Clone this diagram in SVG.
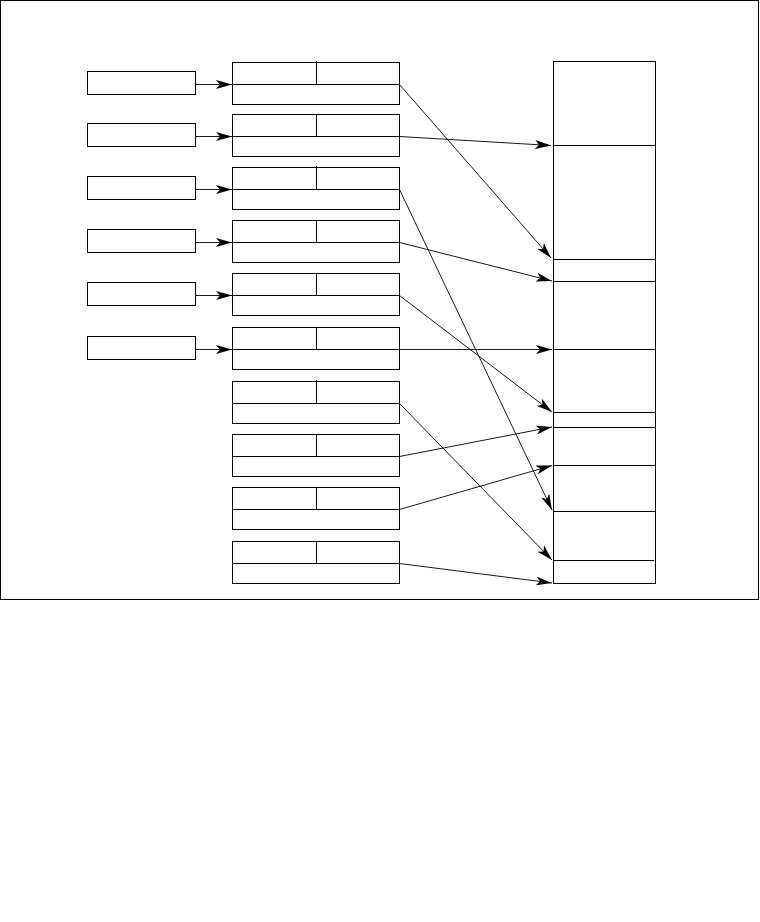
<svg xmlns="http://www.w3.org/2000/svg" width="760" height="922" viewBox="0 0 760 922">
<style>
.b{fill:#fff;stroke:#000;stroke-width:1}
.l{stroke:#000;stroke-width:1;fill:none}
.c{stroke:#000;stroke-width:0.9;fill:none;marker-end:url(#ah)}
</style>
<defs>
<marker id="ah" viewBox="0 0 16 9" refX="16" refY="4.5" markerWidth="16" markerHeight="9" markerUnits="userSpaceOnUse" orient="auto">
<path d="M0,0 L16,4.5 L0,9 L4,4.5 Z" fill="#000"/>
</marker>
</defs>
<rect width="760" height="922" fill="#fff"/>
<rect id="frame" x="0.5" y="0.5" width="758" height="599" fill="none" stroke="#000" stroke-width="1"/>
<g id="left1"><rect class="b" x="87.5" y="71.5" width="108" height="23"/></g>
<g id="left2"><rect class="b" x="87.5" y="123.5" width="108" height="23"/></g>
<g id="left3"><rect class="b" x="87.5" y="176.5" width="108" height="23"/></g>
<g id="left4"><rect class="b" x="87.5" y="229.5" width="108" height="23"/></g>
<g id="left5"><rect class="b" x="87.5" y="282.5" width="108" height="23"/></g>
<g id="left6"><rect class="b" x="87.5" y="336.5" width="108" height="23"/></g>
<g id="mid1"><rect class="b" x="232.5" y="62.5" width="167" height="42"/><path class="l" d="M232.5,84.5H399.5M316.5,61V84.5"/></g>
<g id="mid2"><rect class="b" x="232.5" y="114.5" width="167" height="42"/><path class="l" d="M232.5,136.5H399.5M316.5,114.5V136.5"/></g>
<g id="mid3"><rect class="b" x="232.5" y="167.5" width="167" height="42"/><path class="l" d="M232.5,189.5H399.5M316.5,166V189.5"/></g>
<g id="mid4"><rect class="b" x="232.5" y="220.5" width="167" height="42"/><path class="l" d="M232.5,242.5H399.5M316.5,220.5V242.5"/></g>
<g id="mid5"><rect class="b" x="232.5" y="273.5" width="167" height="42"/><path class="l" d="M232.5,295.5H399.5M316.5,273.5V295.5"/></g>
<g id="mid6"><rect class="b" x="232.5" y="327.5" width="167" height="42"/><path class="l" d="M232.5,349.5H399.5M316.5,327.5V349.5"/></g>
<g id="mid7"><rect class="b" x="232.5" y="381.5" width="167" height="42"/><path class="l" d="M232.5,403.5H399.5M316.5,380V403.5"/></g>
<g id="mid8"><rect class="b" x="232.5" y="434.5" width="167" height="42"/><path class="l" d="M232.5,456.5H399.5M316.5,434.5V456.5"/></g>
<g id="mid9"><rect class="b" x="232.5" y="487.5" width="167" height="42"/><path class="l" d="M232.5,509.5H399.5M316.5,487.5V509.5"/></g>
<g id="mid10"><rect class="b" x="232.5" y="541.5" width="167" height="42"/><path class="l" d="M232.5,563.5H399.5M316.5,541.5V563.5"/></g>
<g id="memory"><rect class="b" x="553.5" y="61.5" width="102" height="522"/><path class="l" d="M553.5,145.5H655.5M553.5,259.5H655.5M553.5,281.5H655.5M553.5,349.5H655.5M553.5,412.5H655.5M553.5,427.5H655.5M553.5,465.5H655.5M553.5,511.5H655.5M553.5,560.5H654"/></g>
<g id="connectors">
<path class="c" d="M195.5,84.5H232"/>
<path class="c" d="M195.5,136.5H232"/>
<path class="c" d="M195.5,189.5H232"/>
<path class="c" d="M195.5,242.5H232"/>
<path class="c" d="M195.5,295.5H232"/>
<path class="c" d="M195.5,349.5H232"/>
<path class="c" d="M399.5,84.5L551,258"/>
<path class="c" d="M399.5,136.5L551,145.5"/>
<path class="c" d="M399.5,189.5L552,510"/>
<path class="c" d="M399.5,242.5L552,281"/>
<path class="c" d="M399.5,295.5L552,412"/>
<path class="c" d="M399.5,349.5L552,349.5"/>
<path class="c" d="M399.5,403.5L552,560"/>
<path class="c" d="M399.5,456.5L552,427"/>
<path class="c" d="M399.5,509.5L552,465.5"/>
<path class="c" d="M399.5,563.5L552,583"/>
</g>
</svg>
